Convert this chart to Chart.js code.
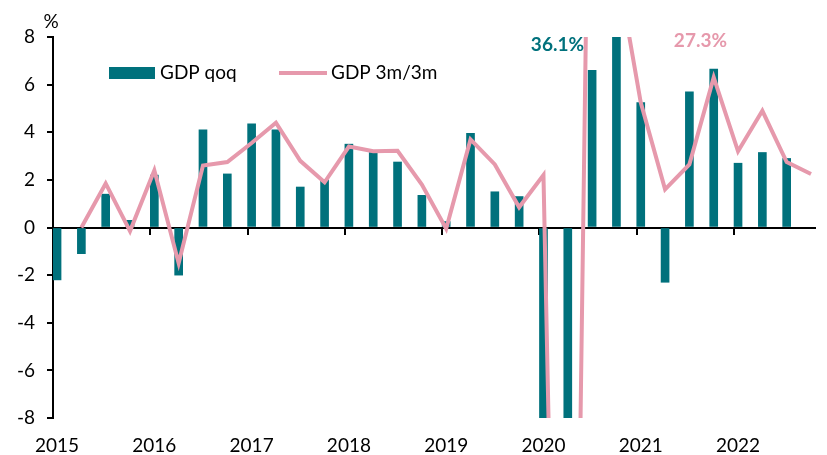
<!DOCTYPE html>
<html><head><meta charset="utf-8">
<script src="https://cdn.jsdelivr.net/npm/chart.js@4.4.1/dist/chart.umd.min.js"></script>
<style>html,body{margin:0;padding:0;background:#fff}#wrap{position:relative;width:827px;height:455px}</style>
</head><body><div id="wrap"><canvas id="c" width="827" height="455"></canvas></div>
<script>
// ---- data (quarterly, starting 2015Q1) ----
const years = ['2015','2016','2017','2018','2019','2020','2021','2022'];
const monthsShown = 94; // monthly category axis: Jan 2015 .. Oct 2022
const seriesNames = ['GDP qoq', 'GDP 3m/3m'];
// GDP qoq bars: 2015Q1 .. 2022Q3
const gdpQoq = [-2.2, -1.1, 1.4, 0.3,
                2.2, -2.0, 4.1, 2.25,
                4.35, 4.1, 1.7, 2.0,
                3.5, 3.15, 2.75, 1.35,
                0.25, 3.95, 1.5, 1.3,
                -10.0, -30.0, 6.6, 36.1,
                5.25, -2.3, 5.7, 6.65,
                2.7, 3.15, 2.9];
// GDP 3m/3m line: 2015Q1 .. 2022Q4 (first quarter missing)
const gdp3m3m = [null, 0.0, 1.85, -0.15,
                 2.4, -1.5, 2.6, 2.75,
                 3.55, 4.4, 2.8, 1.9,
                 3.4, 3.2, 3.22, 1.8,
                 -0.05, 3.7, 2.65, 0.85,
                 2.2, -47.0, 27.3, 11.1,
                 5.25, 1.6, 2.65, 6.3,
                 3.2, 4.9, 2.75, 2.25];

const TEAL = '#00717C';
const PINK = '#E699AC';
const FONT = 'Lato';

// monthly category labels
const monthLabels = [];
for (let i = 0; i < monthsShown; i++) {
  monthLabels.push(years[Math.floor(i / 12)] + '-' + String(i % 12 + 1).padStart(2, '0'));
}
const qPts = arr => arr.map((v, i) => ({x: monthLabels[3 * i], y: v})).filter(p => p.y !== null);

const overlay = {
  id: 'overlay',
  afterDraw(chart) {
    const ctx = chart.ctx;
    const xs = chart.scales.x, ys = chart.scales.y;
    const top = chart.chartArea.top;
    ctx.save();
    ctx.textBaseline = 'middle';
    // unit label
    ctx.font = '19px ' + FONT;
    ctx.fillStyle = '#000';
    ctx.textAlign = 'center';
    ctx.fillText('%', ys.right - 2, top - 15);
    // legend
    const ly = top + 36;
    ctx.fillStyle = TEAL;
    ctx.fillRect(109, ly - 6, 46, 12);
    ctx.fillStyle = '#000';
    ctx.textAlign = 'left';
    ctx.fillText(seriesNames[0], 160, ly);
    ctx.strokeStyle = PINK;
    ctx.lineWidth = 4;
    ctx.beginPath(); ctx.moveTo(279, ly); ctx.lineTo(327, ly); ctx.stroke();
    ctx.fillText(seriesNames[1], 331, ly);
    // off-scale value annotations
    ctx.font = 'bold 19px ' + FONT;
    ctx.textAlign = 'center';
    const maxBar = Math.max(...gdpQoq);
    const maxLine = Math.max(...gdp3m3m.filter(v => v !== null));
    const iBar = gdpQoq.indexOf(maxBar);
    ctx.fillStyle = TEAL;
    ctx.fillText(maxBar.toFixed(1) + '%', xs.getPixelForValue(3 * iBar) - 59, top + 8);
    ctx.fillStyle = PINK;
    ctx.fillText(maxLine.toFixed(1) + '%', xs.getPixelForValue(3 * iBar) + 84, top + 4);
    ctx.restore();
  }
};

new Chart(document.getElementById('c'), {
  type: 'bar',
  data: {
    labels: monthLabels,
    datasets: [
      {type: 'line', label: seriesNames[1], data: qPts(gdp3m3m), borderColor: PINK, borderWidth: 4,
       pointRadius: 0, tension: 0, fill: false, order: 1, clip: 0, xAxisID: 'x', yAxisID: 'y'},
      {type: 'bar', label: seriesNames[0], data: qPts(gdpQoq), backgroundColor: TEAL, borderWidth: 0,
       barThickness: 8, order: 2, clip: 0, xAxisID: 'x', yAxisID: 'y'}
    ]
  },
  options: {
    responsive: false,
    animation: false,
    devicePixelRatio: 1,
    layout: {padding: {top: 37, right: 0, bottom: 0, left: 0}},
    plugins: {legend: {display: false}, tooltip: {enabled: false}},
    scales: {
      y: {
        min: -8, max: 8,
        ticks: {stepSize: 2, color: '#000', font: {family: FONT, size: 19}, padding: 12},
        border: {color: '#000', width: 2},
        grid: {drawOnChartArea: false, color: '#000', tickLength: 6, lineWidth: 2},
        afterFit(s) { s.width = 53; }
      },
      x: {
        type: 'category', position: {y: 0}, offset: true,
        ticks: {display: false, autoSkip: false},
        border: {color: '#000', width: 2},
        grid: {offset: true, drawOnChartArea: false, tickLength: 6, lineWidth: 2,
               color: c => (c.index % 12 === 0 ? '#000' : 'rgba(0,0,0,0)')}
      },
      x2: {
        type: 'category', position: 'bottom', offset: true,
        grid: {display: false, drawTicks: false},
        border: {display: false},
        ticks: {autoSkip: false, maxRotation: 0, color: '#000', font: {family: FONT, size: 19}, padding: 16,
                callback: (v, i) => (i % 12 === 0 ? years[i / 12] : '')},
        afterFit(s) { s.height = 37; }
      }
    }
  },
  plugins: [overlay]
});
</script>
</body></html>
